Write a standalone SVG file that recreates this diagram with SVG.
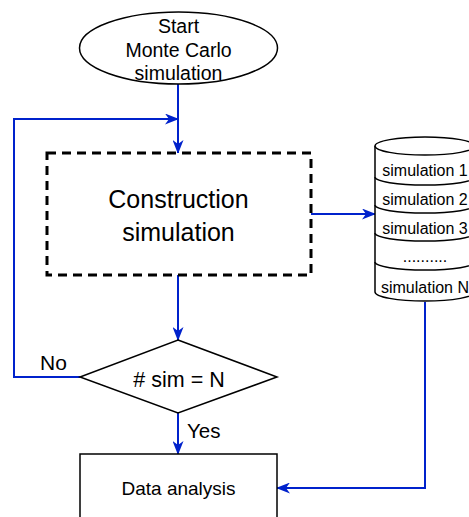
<svg xmlns="http://www.w3.org/2000/svg" width="469" height="517" viewBox="0 0 469 517">
<style>
  .shape { fill: #ffffff; stroke: #000000; stroke-width: 1.5; }
  .dashed { fill: #ffffff; stroke: #000000; stroke-width: 3; stroke-dasharray: 9 6; }
  .edge { fill: none; stroke: #0022CC; stroke-width: 2; }
  text { font-family: "Liberation Sans", Arial, sans-serif; fill: #000000; text-anchor: middle; }
  .lbl { text-anchor: start; }
</style>
<defs>
  <marker id="arrow" viewBox="0 0 14 11" refX="13" refY="5.5" markerWidth="14" markerHeight="11" markerUnits="userSpaceOnUse" orient="auto">
    <path d="M0,0 L14,5.5 L0,11 L4,5.5 Z" fill="#0022CC" stroke="none"/>
  </marker>
</defs>
<rect width="469" height="517" fill="#ffffff"/>

<g id="connectors">
  <path class="edge" d="M178,84 V153" marker-end="url(#arrow)"/>
  <path class="edge" d="M80,377 H14 V119 H178" marker-end="url(#arrow)"/>
  <path class="edge" d="M311,214 H375" marker-end="url(#arrow)"/>
  <path class="edge" d="M178,275 V340" marker-end="url(#arrow)"/>
  <path class="edge" d="M178,413 V454" marker-end="url(#arrow)"/>
  <path class="edge" d="M425,302 V488 H277" marker-end="url(#arrow)"/>
  <text class="lbl" x="40" y="370" font-size="21">No</text>
  <text class="lbl" x="187" y="438" font-size="20.5">Yes</text>
</g>

<g id="start">
  <ellipse class="shape" cx="178.5" cy="48" rx="99" ry="36"/>
  <text x="178.5" y="33" font-size="19.5">Start</text>
  <text x="178.5" y="56.5" font-size="19.5">Monte Carlo</text>
  <text x="178.5" y="80" font-size="19.5">simulation</text>
</g>

<g id="construction">
  <rect class="dashed" x="47" y="153" width="264" height="122"/>
  <text x="178.5" y="208" font-size="25">Construction</text>
  <text x="178.5" y="241" font-size="25">simulation</text>
</g>

<g id="database">
  <path class="shape" d="M375,146 A50,9 0 0 1 475,146 V292 A50,9 0 0 1 375,292 Z"/>
  <path class="shape" fill="none" d="M375,146 A50,9 0 0 0 475,146"/>
  <path class="shape" fill="none" d="M375,177 A50,8 0 0 0 475,177"/>
  <path class="shape" fill="none" d="M375,205 A50,8 0 0 0 475,205"/>
  <path class="shape" fill="none" d="M375,233 A50,8 0 0 0 475,233"/>
  <path class="shape" fill="none" d="M375,262 A50,8 0 0 0 475,262"/>
  <text x="425" y="176" font-size="16">simulation 1</text>
  <text x="425" y="205" font-size="16">simulation 2</text>
  <text x="425" y="234" font-size="16">simulation 3</text>
  <text x="425" y="262" font-size="16">..........</text>
  <text x="425" y="293" font-size="16">simulation N</text>
</g>

<g id="decision">
  <polygon class="shape" points="178,340 277,377 178,413 80,377"/>
  <text x="179" y="387" font-size="21.5"># sim = N</text>
</g>

<g id="analysis">
  <rect class="shape" x="80" y="454" width="197" height="80"/>
  <text x="178.5" y="495" font-size="19">Data analysis</text>
</g>
</svg>
